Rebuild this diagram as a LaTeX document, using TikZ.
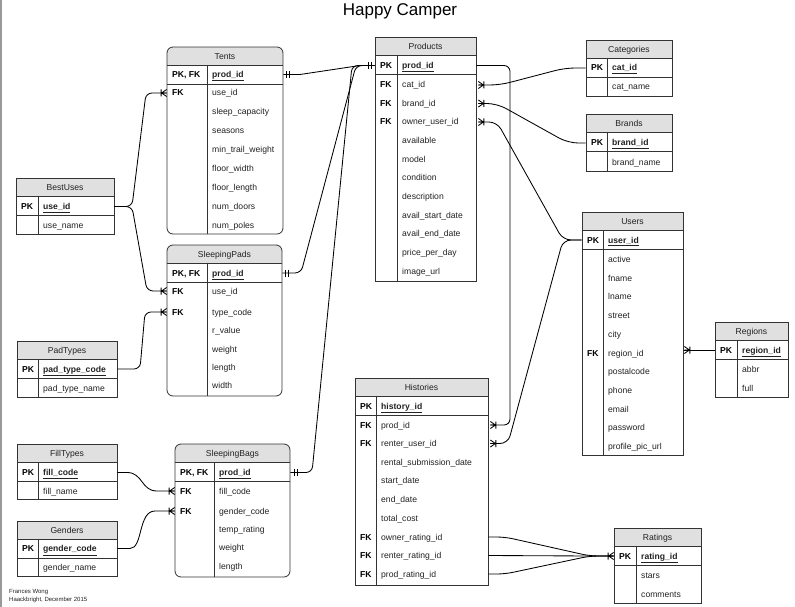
\documentclass[tikz,border=0pt]{standalone}
\usepackage{fontspec}
\setmainfont{Liberation Sans}
\definecolor{hdr}{HTML}{E0E0E0}
\definecolor{frame}{HTML}{333333}
\definecolor{txt}{HTML}{222222}
\definecolor{leftbar}{HTML}{999999}
\newcommand\tabfont{\fontsize{8.6}{10}\selectfont}
\newcommand\pkf[1]{\textbf{\underline{#1}}}
% table frame: [style]{name}{x1}{y1}{x2}{y2}{divider x}{title}
\newcommand\ertab[8][]{%
  \begin{scope}
    \clip[#1] (#3,#4) rectangle (#5,#6);
    \fill[hdr] (#3,#4) rectangle (#5,{#4+18.5});
  \end{scope}
  \draw[tblline] (#3,{#4+18.5}) -- (#5,{#4+18.5}) (#3,{#4+37}) -- (#5,{#4+37}) (#7,{#4+18.5}) -- (#7,#6);
  \node[tblbox,#1,minimum width={(#5-#3)*1pt},minimum height={(#6-#4)*1pt}] (#2) at ({(#3+#5)/2},{(#4+#6)/2}) {};
  \node[hdrtext] (#2-h) at ({(#3+#5)/2},{#4+9.25}) {#8};
}
% field: {name}{divider x}{y}{text}
\newcommand\erow[4]{\node[fldtext] (#1) at ({#2+5},#3) {#4};}
% key label: {name}{x1}{y}{text}
\newcommand\ekey[4]{\node[keytext] (#1-k) at ({#2+5},#3) {#4};}
\begin{document}
\begin{tikzpicture}[x=1pt,y=-1pt,
  tblline/.style={draw=frame,line width=0.8pt},
  tblbox/.style={draw=frame,line width=0.8pt,inner sep=0pt,rectangle},
  rnd/.style={rounded corners=6pt},
  keytext/.style={anchor=west,inner sep=0pt,font=\tabfont\bfseries,text height=6.8pt,text depth=0.8pt,text=black},
  fldtext/.style={anchor=west,inner sep=0pt,font=\tabfont,text height=6.8pt,text depth=0.8pt,text=txt},
  hdrtext/.style={inner sep=0pt,font=\tabfont,text=txt,text height=6.8pt,text depth=0.8pt},
  conn/.style={draw=black,line width=0.85pt},
  crow/.pic={\draw[conn] (0,-3.5) -- (5,0) -- (0,3.5) (0,0) -- (5.5,0) (5.5,-3.5) -- (5.5,3.5);},
  one2/.pic={\draw[conn] (3,-3.5) -- (3,3.5) (6,-3.5) -- (6,3.5);},
  foot/.style={anchor=west,inner sep=0pt,font=\fontsize{6}{7}\selectfont,text=txt}
]
\useasboundingbox (0,0) rectangle (795,607);
\fill[white] (0,0) rectangle (795,607);
\fill[leftbar] (0,0) rectangle (1.6,607);

\node[inner sep=0pt,font=\fontsize{17}{20}\selectfont,text=black] (title) at (400,11) {Happy Camper};
\node[foot] (author) at (9,592) {Frances Wong};
\node[foot] (org) at (9,599.5) {Haackbright, December 2015};

% ---------------- Tents
\ertab[rnd]{tents}{167}{47}{283}{234}{207}{Tents}
\ekey{t-prod}{167}{74.5}{PK, FK}\erow{t-prod}{207}{74.5}{\pkf{prod\_id}}
\ekey{t-use}{167}{93}{FK}\erow{t-use}{207}{93}{use\_id}
\erow{t-sleep}{207}{112}{sleep\_capacity}
\erow{t-seas}{207}{131}{seasons}
\erow{t-mtw}{207}{150}{min\_trail\_weight}
\erow{t-fw}{207}{168.5}{floor\_width}
\erow{t-fl}{207}{187.5}{floor\_length}
\erow{t-nd}{207}{206}{num\_doors}
\erow{t-np}{207}{225}{num\_poles}

% ---------------- BestUses
\ertab{bestuses}{16}{178}{114}{234}{38}{BestUses}
\ekey{bu-id}{16}{206.5}{PK}\erow{bu-id}{38}{206.5}{\pkf{use\_id}}
\erow{bu-name}{38}{225}{use\_name}

% ---------------- SleepingPads
\ertab[rnd]{pads}{167}{245}{282}{396}{207}{SleepingPads}
\ekey{pd-prod}{167}{273}{PK, FK}\erow{pd-prod}{207}{273}{\pkf{prod\_id}}
\ekey{pd-use}{167}{291}{FK}\erow{pd-use}{207}{291}{use\_id}
\ekey{pd-type}{167}{312}{FK}\erow{pd-type}{207}{312}{type\_code}
\erow{pd-r}{207}{330}{r\_value}
\erow{pd-w}{207}{349}{weight}
\erow{pd-l}{207}{367.5}{length}
\erow{pd-wd}{207}{385.5}{width}

% ---------------- PadTypes
\ertab{padtypes}{17}{341}{117}{397}{38}{PadTypes}
\ekey{pt-code}{17}{369}{PK}\erow{pt-code}{38}{369}{\pkf{pad\_type\_code}}
\erow{pt-name}{38}{388}{pad\_type\_name}

% ---------------- FillTypes
\ertab{filltypes}{17}{444}{117}{499}{38}{FillTypes}
\ekey{ft-code}{17}{472.5}{PK}\erow{ft-code}{38}{472.5}{\pkf{fill\_code}}
\erow{ft-name}{38}{491}{fill\_name}

% ---------------- Genders
\ertab{genders}{17}{521}{117}{576}{38}{Genders}
\ekey{g-code}{17}{548.5}{PK}\erow{g-code}{38}{548.5}{\pkf{gender\_code}}
\erow{g-name}{38}{567}{gender\_name}

% ---------------- SleepingBags
\ertab[rnd]{bags}{175}{444}{290}{577}{214}{SleepingBags}
\ekey{bg-prod}{175}{472.5}{PK, FK}\erow{bg-prod}{214}{472.5}{\pkf{prod\_id}}
\ekey{bg-fill}{175}{491}{FK}\erow{bg-fill}{214}{491}{fill\_code}
\ekey{bg-gender}{175}{511}{FK}\erow{bg-gender}{214}{511}{gender\_code}
\erow{bg-temp}{214}{529}{temp\_rating}
\erow{bg-w}{214}{547.5}{weight}
\erow{bg-l}{214}{566}{length}

% ---------------- Products
\ertab{products}{375}{37}{476}{281}{397}{Products}
\ekey{p-prod}{375}{65.5}{PK}\erow{p-prod}{397}{65.5}{\pkf{prod\_id}}
\ekey{p-cat}{375}{85}{FK}\erow{p-cat}{397}{85}{cat\_id}
\ekey{p-brand}{375}{103.5}{FK}\erow{p-brand}{397}{103.5}{brand\_id}
\ekey{p-owner}{375}{122}{FK}\erow{p-owner}{397}{122}{owner\_user\_id}
\erow{p-av}{397}{141}{available}
\erow{p-model}{397}{159}{model}
\erow{p-cond}{397}{177.5}{condition}
\erow{p-desc}{397}{196}{description}
\erow{p-asd}{397}{215}{avail\_start\_date}
\erow{p-aed}{397}{233}{avail\_end\_date}
\erow{p-ppd}{397}{252}{price\_per\_day}
\erow{p-img}{397}{271}{image\_url}

% ---------------- Categories
\ertab{cats}{586}{40}{672}{96}{607}{Categories}
\ekey{c-cat}{586}{68}{PK}\erow{c-cat}{607}{68}{\pkf{cat\_id}}
\erow{c-name}{607}{87}{cat\_name}

% ---------------- Brands
\ertab{brands}{586}{114}{672}{171}{607}{Brands}
\ekey{br-id}{586}{143}{PK}\erow{br-id}{607}{143}{\pkf{brand\_id}}
\erow{br-name}{607}{162}{brand\_name}

% ---------------- Users
\ertab{users}{582}{212}{683}{455}{603}{Users}
\ekey{u-user}{582}{240}{PK}\erow{u-user}{603}{240}{\pkf{user\_id}}
\erow{u-active}{603}{259}{active}
\erow{u-fname}{603}{278}{fname}
\erow{u-lname}{603}{296}{lname}
\erow{u-street}{603}{315}{street}
\erow{u-city}{603}{334}{city}
\ekey{u-region}{582}{353}{FK}\erow{u-region}{603}{353}{region\_id}
\erow{u-postal}{603}{371}{postalcode}
\erow{u-phone}{603}{390}{phone}
\erow{u-email}{603}{409}{email}
\erow{u-pass}{603}{427.5}{password}
\erow{u-pic}{603}{446}{profile\_pic\_url}

% ---------------- Regions
\ertab{regions}{715}{322}{788}{397}{737}{Regions}
\ekey{r-region}{715}{350}{PK}\erow{r-region}{737}{350}{\pkf{region\_id}}
\erow{r-abbr}{737}{369}{abbr}
\erow{r-full}{737}{388}{full}

% ---------------- Histories
\ertab{hist}{355}{378}{488}{585}{376}{Histories}
\ekey{h-id}{355}{406}{PK}\erow{h-id}{376}{406}{\pkf{history\_id}}
\ekey{h-prod}{355}{425}{FK}\erow{h-prod}{376}{425}{prod\_id}
\ekey{h-renter}{355}{443.5}{FK}\erow{h-renter}{376}{443.5}{renter\_user\_id}
\erow{h-rsd}{376}{462}{rental\_submission\_date}
\erow{h-sd}{376}{480.5}{start\_date}
\erow{h-ed}{376}{499}{end\_date}
\erow{h-tc}{376}{518}{total\_cost}
\ekey{h-ownr}{355}{537}{FK}\erow{h-ownr}{376}{537}{owner\_rating\_id}
\ekey{h-rentr}{355}{555.5}{FK}\erow{h-rentr}{376}{555.5}{renter\_rating\_id}
\ekey{h-prodr}{355}{574}{FK}\erow{h-prodr}{376}{574}{prod\_rating\_id}

% ---------------- Ratings
\ertab{ratings}{614}{528}{701}{603}{636}{Ratings}
\ekey{ra-id}{614}{556}{PK}\erow{ra-id}{636}{556}{\pkf{rating\_id}}
\erow{ra-stars}{636}{575}{stars}
\erow{ra-com}{636}{594}{comments}

% ================= connectors
% product sub-types -> Products
\draw[conn] (t-prod -| tents.east) -- (300,74.5) -- (360,65.5) -- (p-prod -| products.west);
\draw[conn,rounded corners=6pt] (pd-prod -| pads.east) -- (301,273) -- (356,65.5) -- (p-prod -| products.west);
\draw[conn,rounded corners=6pt] (bg-prod -| bags.east) -- (312,472.5) -- (352,65.5) -- (p-prod -| products.west);
\pic at (t-prod -| tents.east) {one2};
\pic at (pd-prod -| pads.east) {one2};
\pic at ([xshift=1pt]bg-prod -| bags.east) {one2};
\pic[xscale=-1] at (p-prod -| products.west) {one2};

% BestUses
\draw[conn,rounded corners=6pt] (bu-id -| bestuses.east) -- (132,206.5) -- (146,93) -- (t-use -| tents.west);
\draw[conn,rounded corners=6pt] (bu-id -| bestuses.east) -- (132,206.5) -- (147,291) -- (pd-use -| pads.west);
\pic[xscale=-1] at (t-use -| tents.west) {crow};
\pic[xscale=-1] at (pd-use -| pads.west) {crow};

% PadTypes
\draw[conn,rounded corners=6pt] (pt-code -| padtypes.east) -- (140,369) -- (145,312) -- (pd-type -| pads.west);
\pic[xscale=-1] at (pd-type -| pads.west) {crow};

% FillTypes, Genders
\draw[conn] (ft-code -| filltypes.east) -- (127,472.5) .. controls (143,472.5) and (141,491) .. (157,491) -- (bg-fill -| bags.west);
\draw[conn] (g-code -| genders.east) -- (130,548.5) .. controls (143,548.5) and (138,511) .. (155,511) -- (bg-gender -| bags.west);
\pic[xscale=-1] at (bg-fill -| bags.west) {crow};
\pic[xscale=-1] at (bg-gender -| bags.west) {crow};

% Products -> Histories
\draw[conn,rounded corners=6pt] (p-prod -| products.east) -- (510,65.5) -- (510,425) -- ([xshift=2pt]h-prod -| hist.east);
\pic at ([xshift=2pt]h-prod -| hist.east) {crow};

% Categories, Brands -> Products
\draw[conn,rounded corners=10pt] (c-cat -| cats.west) -- (565,68) -- (500,85) -- ([xshift=2pt]p-cat -| products.east);
\draw[conn,rounded corners=10pt] (br-id -| brands.west) -- (568,143) -- (497,103.5) -- ([xshift=2pt]p-brand -| products.east);
\pic at ([xshift=2pt]p-cat -| products.east) {crow};
\pic at ([xshift=2pt]p-brand -| products.east) {crow};

% Users -> Products, Histories
\draw[conn,rounded corners=8pt] (u-user -| users.west) -- (563,240) -- (497,122) -- ([xshift=2pt]p-owner -| products.east);
\draw[conn,rounded corners=8pt] (u-user -| users.west) -- (563,240) -- (508,443.5) -- ([xshift=2pt]h-renter -| hist.east);
\pic at ([xshift=2pt]p-owner -| products.east) {crow};
\pic at ([xshift=2pt]h-renter -| hist.east) {crow};

% Users -> Regions
\draw[conn] ([xshift=1pt]users.east |- r-region) -- (r-region -| regions.west);
\pic at ([xshift=1pt]users.east |- r-region) {crow};

% Histories -> Ratings
\draw[conn,rounded corners=8pt] (h-ownr -| hist.east) -- (505,537) -- (590,556) -- (ra-id -| ratings.west);
\draw[conn] (h-rentr -| hist.east) -- (590,556) -- (ra-id -| ratings.west);
\draw[conn,rounded corners=8pt] (h-prodr -| hist.east) -- (505,574) -- (590,556) -- (ra-id -| ratings.west);
\pic[xscale=-1] at (ra-id -| ratings.west) {crow};
\end{tikzpicture}
\end{document}
